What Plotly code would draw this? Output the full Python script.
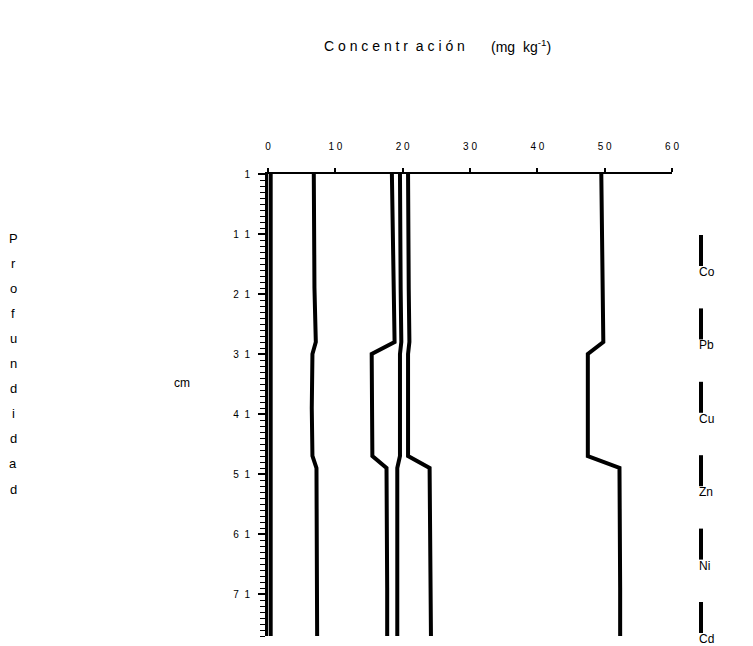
import plotly.graph_objects as go

# ---- data ----
depth = [1, 10, 20, 29, 31, 40, 48, 50, 60, 70, 78]
series_names = ["Co", "Pb", "Cu", "Zn", "Ni", "Cd"]
co = [6.8, 6.8, 6.9, 7.1, 6.6, 6.5, 6.6, 7.2, 7.2, 7.3, 7.3]
pb = [20.8, 20.8, 20.9, 21.0, 20.8, 20.8, 20.8, 24.0, 24.1, 24.1, 24.2]
cu = [18.4, 18.5, 18.6, 18.8, 15.4, 15.4, 15.5, 17.6, 17.7, 17.7, 17.7]
zn = [49.5, 49.6, 49.7, 49.8, 47.5, 47.5, 47.5, 52.2, 52.3, 52.3, 52.3]
ni = [19.6, 19.6, 19.7, 19.8, 19.6, 19.6, 19.6, 19.2, 19.2, 19.2, 19.2]
cd = [0.4, 0.4, 0.4, 0.4, 0.4, 0.4, 0.4, 0.4, 0.4, 0.4, 0.4]
series_values = [co, pb, cu, zn, ni, cd]

x_tickvals = [0, 10, 20, 30, 40, 50, 60]
x_ticktext = ["0", "1\u00a00", "2\u00a00", "3\u00a00", "4\u00a00", "5\u00a00", "6\u00a00"]
y_tickvals = [1, 11, 21, 31, 41, 51, 61, 71]
y_ticktext = ["1", "1\u00a0\u00a01", "2\u00a0\u00a01", "3\u00a0\u00a01", "4\u00a0\u00a01",
              "5\u00a0\u00a01", "6\u00a0\u00a01", "7\u00a0\u00a01"]

FONT = "Liberation Sans"

# page-pixel -> paper helpers (page has an 8px body margin)
PL, PT, PW, PH = 268, 174, 404, 462
def px(x):
    return (x - PL) / PW
def py(y):
    return 1 - (y - PT) / PH

fig = go.Figure()
for name, vals in zip(series_names, series_values):
    fig.add_trace(go.Scatter(x=vals, y=depth, mode="lines", name=name,
                             line=dict(color="black", width=4),
                             showlegend=False))

fig.update_layout(
    width=737, height=638,
    margin=dict(l=260, r=73, t=166, b=10),
    paper_bgcolor="white", plot_bgcolor="white",
    font=dict(family=FONT, color="black"),
    xaxis=dict(side="top", range=[0, 60], tickvals=x_tickvals, ticktext=x_ticktext,
               showgrid=False, zeroline=False, showline=True, linecolor="black",
               linewidth=2, ticks="outside", ticklen=4, tickwidth=2, tickcolor="black",
               tickfont=dict(size=10, family=FONT, color="black"), ticklabelstandoff=14),
    yaxis=dict(range=[78, 1], tickvals=y_tickvals, ticktext=y_ticktext,
               showgrid=False, zeroline=False, showline=True, linecolor="black",
               linewidth=3, ticks="outside", ticklen=7, tickwidth=2, tickcolor="black",
               tickfont=dict(size=10, family=FONT, color="black"), ticklabelstandoff=6,
               minor=dict(dtick=1, tick0=1, ticks="outside", ticklen=5, tickwidth=1,
                          tickcolor="black")),
)

def note(text, x, y, size=13, xanchor="center"):
    fig.add_annotation(text=text, xref="paper", yref="paper", x=px(x), y=py(y),
                       xanchor=xanchor, yanchor="middle", showarrow=False,
                       font=dict(size=size, family=FONT, color="black"))

# Title
note("C\u00a0o\u00a0n\u00a0c\u00a0e\u00a0n\u00a0t\u00a0r\u00a0\u00a0a\u00a0c\u00a0i\u00a0ó\u00a0n",
     394, 46, size=14)
note("(mg\u00a0\u00a0kg<sup>-1</sup>)", 521, 46, size=14)

# Y-axis title, stacked letters
ytitle = "Profundidad"
for i, ch in enumerate(ytitle):
    note(ch, 13, 238 + i * 25.1, size=13)
note("cm", 182, 383, size=12)

# Legend: short vertical bars with names beneath
for i, name in enumerate(series_names):
    top = 235 + i * 73.4
    fig.add_shape(type="line", xref="paper", yref="paper", x0=px(701), x1=px(701),
                  y0=py(top), y1=py(top + 31), line=dict(color="black", width=4))
    note(name, 697, top + 37, size=12, xanchor="left")

fig.write_html("out.html")
